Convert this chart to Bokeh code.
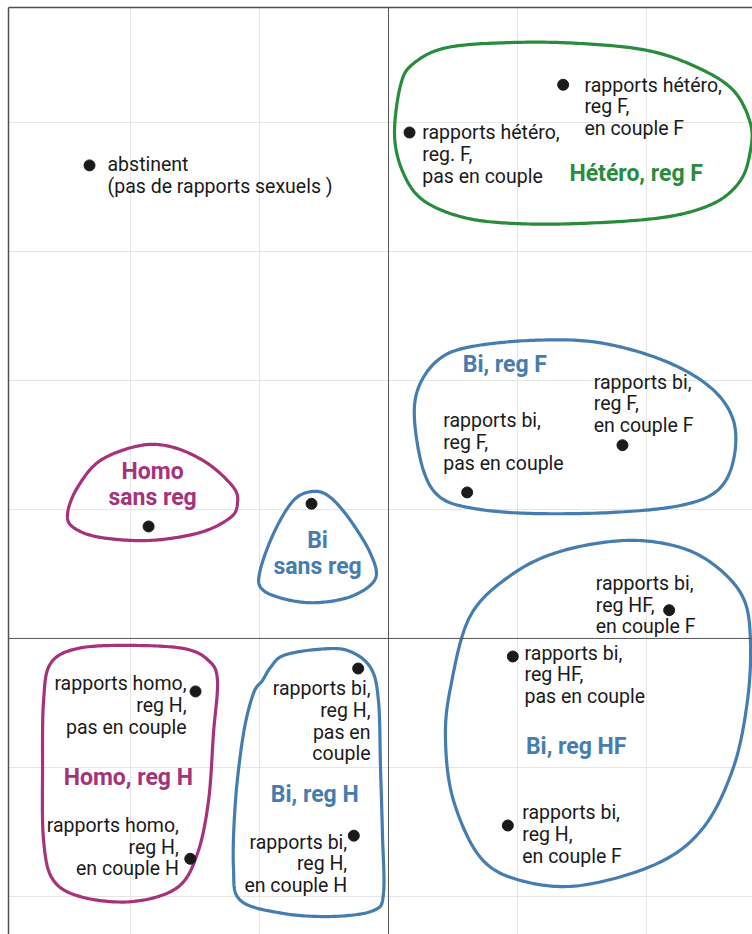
import numpy as np
from bokeh.plotting import figure
from bokeh.models import Span, FixedTicker, Grid, ColumnDataSource, LinearAxis
from bokeh.core.properties import value
from bokeh.embed import file_html
from bokeh.resources import INLINE

# ---------------- data ----------------
categories = [
    "abstinent", "hetero_regF_pas_couple", "hetero_regF_couple_F",
    "bi_regF_pas_couple", "bi_regF_couple_F", "homo_sans_reg", "bi_sans_reg",
    "bi_regHF_couple_F", "bi_regHF_pas_couple", "bi_regH_couple_F",
    "homo_regH_pas_couple", "homo_regH_couple_H", "bi_regH_pas_couple",
    "bi_regH_couple_H",
]
dim1 = [-2.318, 0.163, 1.354, 0.610, 1.814, -1.860, -0.597,
        2.176, 0.964, 0.925, -1.496, -1.537, -0.235, -0.269]
dim2 = [3.667, 3.922, 4.292, 1.132, 1.498, 0.868, 1.044,
        0.219, -0.140, -1.450, -0.411, -1.708, -0.233, -1.529]
point_labels = [
    "abstinent\n(pas de rapports sexuels )",
    "rapports hétéro,\nreg. F,\npas en couple",
    "rapports hétéro,\nreg F,\nen couple F",
    "rapports bi,\nreg F,\npas en couple",
    "rapports bi,\nreg F,\nen couple F",
    "",
    "",
    "rapports bi,\nreg HF,\nen couple F",
    "rapports bi,\nreg HF,\npas en couple",
    "rapports bi,\nreg H,\nen couple F",
    "rapports homo,\nreg H,\npas en couple",
    "rapports homo,\nreg H,\nen couple H",
    "rapports bi,\nreg H,\npas en\ncouple",
    "rapports bi,\nreg H,\nen couple H",
]

group_titles = ["Hétéro, reg F", "Bi, reg F", "Homo\nsans reg", "Bi\nsans reg",
                "Homo, reg H", "Bi, reg H", "Bi, reg HF"]
group_label_x = [1.920, 0.902, -1.829, -0.550, -2.017, -0.572, 1.455]
group_label_y = [3.543, 2.060, 1.230, 0.695, -1.140, -1.271, -0.899]

hull_hetero_F_x = [0.047, 0.093, 0.194, 0.457, 0.969, 1.488, 2.008, 2.395, 2.674, 2.806,
                   2.806, 2.729, 2.519, 2.132, 1.488, 0.969, 0.581, 0.271, 0.116]
hull_hetero_F_y = [3.899, 4.287, 4.457, 4.581, 4.620, 4.612, 4.558, 4.426, 4.248, 3.992,
                   3.783, 3.550, 3.372, 3.264, 3.217, 3.217, 3.264, 3.395, 3.605]
hull_bi_F_x = [0.202, 0.233, 0.380, 0.612, 1.101, 1.620, 2.132, 2.496, 2.674, 2.674,
               2.550, 2.264, 1.744, 1.101, 0.659, 0.403, 0.271]
hull_bi_F_y = [1.690, 1.946, 2.155, 2.256, 2.310, 2.295, 2.155, 1.946, 1.690, 1.380,
               1.147, 1.031, 0.977, 0.969, 1.008, 1.093, 1.302]
hull_homo_sans_x = [-2.488, -2.411, -2.233, -1.922, -1.667, -1.403, -1.202, -1.171,
                    -1.225, -1.457, -1.845, -2.233, -2.442]
hull_homo_sans_y = [0.969, 1.171, 1.380, 1.496, 1.481, 1.357, 1.171, 1.047,
                    0.938, 0.822, 0.760, 0.783, 0.860]
hull_bi_sans_x = [-0.581, -0.736, -0.891, -1.000, -0.969, -0.760, -0.527, -0.271,
                  -0.101, -0.140, -0.295, -0.450]
hull_bi_sans_y = [1.140, 1.070, 0.814, 0.504, 0.372, 0.295, 0.279, 0.333,
                  0.465, 0.659, 0.915, 1.093]
hull_homo_H_x = [-2.620, -2.411, -2.023, -1.589, -1.395, -1.326, -1.357, -1.395,
                 -1.481, -1.636, -1.977, -2.364, -2.597, -2.674, -2.682, -2.674]
hull_homo_H_y = [-0.194, -0.078, -0.054, -0.078, -0.171, -0.326, -0.736, -1.256,
                 -1.667, -1.930, -2.039, -2.008, -1.876, -1.566, -1.000, -0.481]
hull_bi_H_x = [-0.814, -0.550, -0.318, -0.140, -0.078, -0.062, -0.047, -0.039, -0.116,
               -0.426, -0.814, -1.147, -1.202, -1.186, -1.124, -1.047, -0.977, -0.915]
hull_bi_H_y = [-0.132, -0.085, -0.093, -0.225, -0.481, -1.000, -1.512, -1.977, -2.109,
               -2.155, -2.132, -2.031, -1.775, -1.256, -0.736, -0.426, -0.326, -0.225]
hull_bi_HF_x = [0.636, 0.969, 1.357, 1.853, 2.264, 2.550, 2.752, 2.806, 2.783, 2.674,
                2.442, 2.085, 1.488, 1.023, 0.713, 0.504, 0.442, 0.481]
hull_bi_HF_y = [0.178, 0.504, 0.682, 0.760, 0.705, 0.550, 0.310, -0.016, -0.481, -1.000,
                -1.465, -1.744, -1.915, -1.876, -1.698, -1.256, -0.791, -0.380]

x_ticks = [-2, -1, 0, 1, 2]
y_ticks = [-2, -1, 0, 1, 2, 3, 4]

# ---------------- style / layout ----------------
GREEN = "#288c3c"
MAGENTA = "#a5327a"
BLUE = "#467db0"
INK = "#1a1a1a"
FRAME = "#505050"
group_colors = [GREEN, BLUE, MAGENTA, BLUE, MAGENTA, BLUE, BLUE]
hulls = [
    (hull_hetero_F_x, hull_hetero_F_y, GREEN),
    (hull_bi_F_x, hull_bi_F_y, BLUE),
    (hull_homo_sans_x, hull_homo_sans_y, MAGENTA),
    (hull_bi_sans_x, hull_bi_sans_y, BLUE),
    (hull_homo_H_x, hull_homo_H_y, MAGENTA),
    (hull_bi_H_x, hull_bi_H_y, BLUE),
    (hull_bi_HF_x, hull_bi_HF_y, BLUE),
]
# label placement relative to its dot (screen px): align, dx, first-baseline dy
label_layout = [
    ("left", 18, 6), ("left", 12.7, 7), ("left", 21.3, 7),
    ("left", -24, -65.3), ("left", -28.7, -56.4), None, None,
    ("left", -73.4, -20), ("left", 11.7, 3.3), ("left", 14.4, -6),
    ("right", -9, -1), ("right", -11.4, -26.6), ("right", 12.3, 27),
    ("right", -6.6, 13),
]
FS = 19.5
GFS = 23
ASC = 0.93
LH = 0.94


def smooth_closed(xs, ys, n=20):
    P = np.column_stack([xs, ys]).astype(float)
    m = len(P)
    t = np.linspace(0, 1, n, endpoint=False)[:, None]
    out = []
    for i in range(m):
        p0, p1, p2, p3 = P[(i - 1) % m], P[i], P[(i + 1) % m], P[(i + 2) % m]
        pts = 0.5 * ((2 * p1) + (-p0 + p2) * t + (2 * p0 - 5 * p1 + 4 * p2 - p3) * t ** 2
                     + (-p0 + 3 * p1 - 3 * p2 + p3) * t ** 3)
        out.append(pts)
    out.append(P[:1])
    A = np.vstack(out)
    return A[:, 0], A[:, 1]


p = figure(width=752, height=934, x_range=(-2.946, 2.822), y_range=(-2.295, 4.891),
           output_backend="svg", toolbar_location=None,
           x_axis_location=None, y_axis_location=None,
           min_border_left=8, min_border_top=7, min_border_right=0, min_border_bottom=0,
           border_fill_color="white", background_fill_color="white",
           outline_line_color=None)

# frame edges on the left and top only
for loc in ("left", "above"):
    ax = LinearAxis(ticker=FixedTicker(ticks=[]), major_tick_out=0, major_tick_in=0,
                    minor_tick_out=0, minor_tick_in=0, major_label_standoff=0,
                    major_label_text_font_size="0px", axis_line_color=FRAME,
                    axis_line_width=1.5)
    p.add_layout(ax, loc)

p.add_layout(Grid(dimension=0, ticker=FixedTicker(ticks=x_ticks),
                  grid_line_color="#e6e6e6", grid_line_width=1))
p.add_layout(Grid(dimension=1, ticker=FixedTicker(ticks=y_ticks),
                  grid_line_color="#e6e6e6", grid_line_width=1))
p.add_layout(Span(location=0, dimension="height", line_color="#555555", line_width=1))
p.add_layout(Span(location=0, dimension="width", line_color="#555555", line_width=1))

for hx, hy, col in hulls:
    sx, sy = smooth_closed(hx, hy)
    p.line(sx, sy, line_color=col, line_width=3.2, line_join="round")

p.scatter(dim1, dim2, size=11, color=INK)

for align in ("left", "right"):
    idx = [i for i, l in enumerate(label_layout) if l is not None and l[0] == align]
    src = ColumnDataSource(dict(
        x=[dim1[i] for i in idx], y=[dim2[i] for i in idx],
        text=[point_labels[i] for i in idx],
        xo=[label_layout[i][1] for i in idx],
        yo=[label_layout[i][2] - ASC * FS for i in idx],
    ))
    p.text("x", "y", text="text", source=src, x_offset="xo", y_offset="yo",
           text_align=align, text_baseline="top", text_font=value("Roboto"),
           text_font_size=f"{FS}px", text_color=INK, text_line_height=LH)

gsrc = ColumnDataSource(dict(x=group_label_x, y=group_label_y, text=group_titles,
                             c=group_colors))
p.text("x", "y", text="text", source=gsrc, text_color="c", text_align="center",
       text_baseline="top", y_offset=-ASC * GFS, text_font=value("Roboto"),
       text_font_style="bold", text_font_size=f"{GFS}px", text_line_height=LH)

open("out.html", "w").write(file_html(p, INLINE))
